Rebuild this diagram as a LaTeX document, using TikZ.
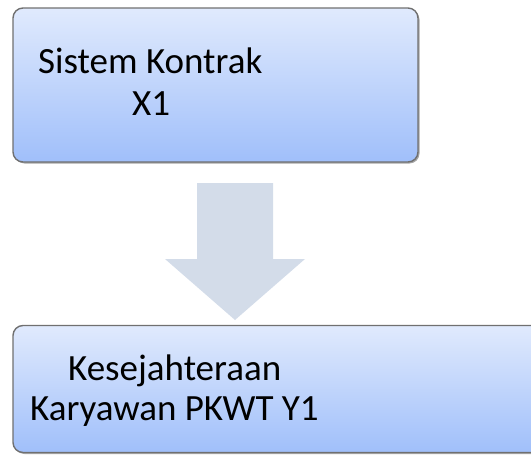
\documentclass[tikz,border=0pt]{standalone}
\usepackage{fontspec}
\setmainfont{Carlito}
\usetikzlibrary{shadows}
\definecolor{boxtop}{HTML}{E0EAFD}
\definecolor{boxbot}{HTML}{A0BFFA}
\definecolor{boxline}{HTML}{707070}
\definecolor{arrowfill}{HTML}{D3DCE9}
\begin{document}
\begin{tikzpicture}[x=1pt,y=-1pt,
  stagebox/.style={rectangle, rounded corners=10pt, draw=boxline, line width=1.4pt,
    top color=boxtop, bottom color=boxbot, inner sep=0pt,
    drop shadow={shadow xshift=1.5pt, shadow yshift=-1.5pt, opacity=0.35, fill=black}},
  label/.style={anchor=base west, inner sep=0pt, font=\fontsize{37}{41}\selectfont, text=black}]
  \useasboundingbox (0,0) rectangle (531,455);
  % first stage
  \node[stagebox, minimum width=405pt, minimum height=154pt] (sys) at (215.5,85) {};
  \node[label] (sysA) at (38,74) {Sistem Kontrak};
  \node[label] (sysB) at (132,115) {X1};
  % block arrow between the stages
  \fill[arrowfill] (197,183) -- (273,183) -- (273,259) -- (305,259) -- (235,320)
    -- (165,259) -- (197,259) -- cycle;
  % second stage
  \node[stagebox, minimum width=532pt, minimum height=127pt] (kes) at (279,389) {};
  \node[label] (kesA) at (68,380) {Kesejahteraan};
  \node[label] (kesB) at (30,420) {Karyawan PKWT Y1};
\end{tikzpicture}
\end{document}
